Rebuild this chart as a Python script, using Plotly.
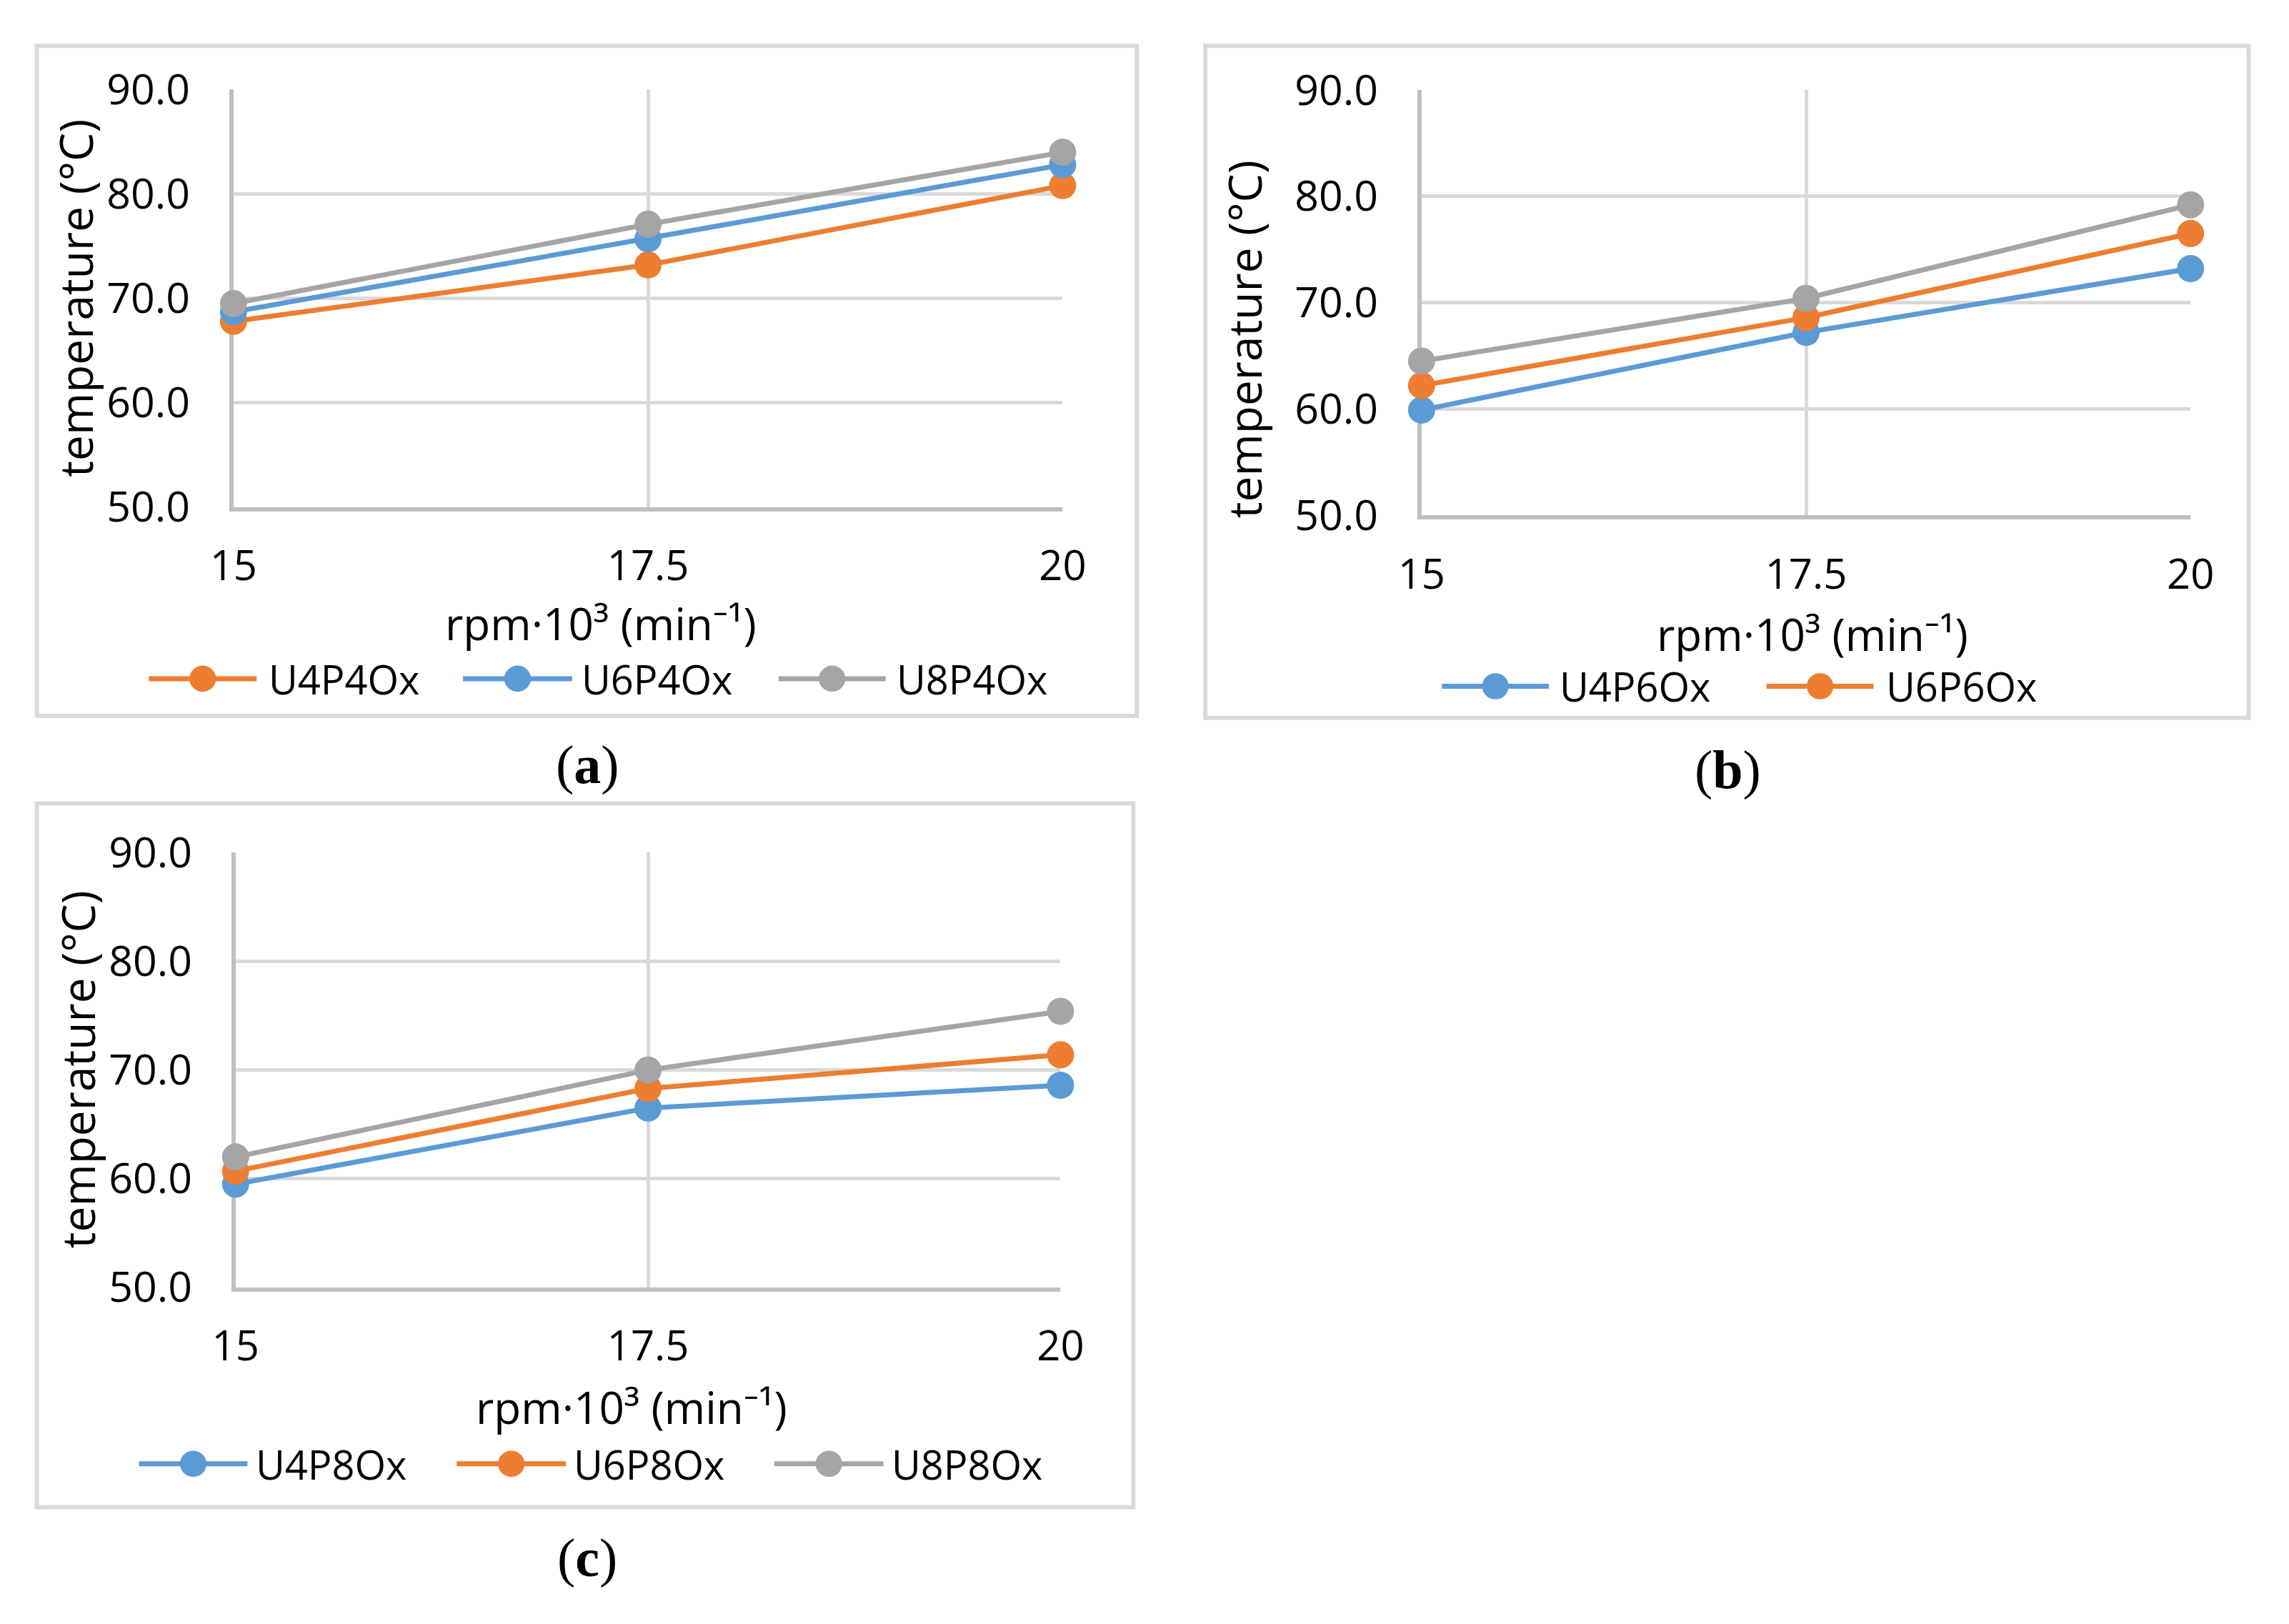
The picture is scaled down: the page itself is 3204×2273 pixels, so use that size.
import plotly.graph_objects as go

# ---------------- data ----------------
rpm = [15, 17.5, 20]
x_tick_text = ["15", "17.5", "20"]
y_ticks = [50, 60, 70, 80, 90]

# panel (a)
a_names = ["U4P4Ox", "U6P4Ox", "U8P4Ox"]
a_U4P4Ox = [67.8, 73.2, 80.8]
a_U6P4Ox = [68.7, 75.7, 82.8]
a_U8P4Ox = [69.5, 77.1, 84.0]

# panel (b)
b_names = ["U4P6Ox", "U6P6Ox", "U8P6Ox"]
b_U4P6Ox = [59.9, 67.2, 73.2]
b_U6P6Ox = [62.2, 68.6, 76.5]
b_U8P6Ox = [64.5, 70.4, 79.2]

# panel (c)
c_names = ["U4P8Ox", "U6P8Ox", "U8P8Ox"]
c_U4P8Ox = [59.5, 66.5, 68.6]
c_U6P8Ox = [60.7, 68.3, 71.4]
c_U8P8Ox = [62.0, 70.0, 75.4]

y_title = "temperature (°C)"
x_title = "rpm·10³ (min⁻¹)"
captions = ["a", "b", "c"]

# ---------------- style ----------------
W, H = 3204, 2273
ORANGE = "#ED7D31"
BLUE = "#5B9BD5"
GRAY = "#A5A5A5"
GRID = "#D9D9D9"
AXIS = "#BFBFBF"
FONT = "Open Sans, Noto Sans, DejaVu Sans"
TXT = "#000000"


def px(v):
    return v / W


def py(v):
    return 1 - v / H


panels = [
    dict(s="", names=a_names, series=[a_U4P4Ox, a_U6P4Ox, a_U8P4Ox],
         colors=[ORANGE, BLUE, GRAY], legend=[True, True, True],
         plot=(300, 1485, 86.5, 692), border=(19, 1591, 23, 995),
         ytitle=(74, 389), xtitle=(825, 860), caption=(806, 1066),
         leg_y=941, leg=[(179, 333, 348), (628, 784, 795), (1079, 1232, 1246)]),
    dict(s="2", names=b_names, series=[b_U4P6Ox, b_U6P6Ox, b_U8P6Ox],
         colors=[BLUE, ORANGE, GRAY], legend=[True, True, False],
         plot=(1998, 3097, 87, 704), border=(1689, 3180, 23, 998),
         ytitle=(1744, 449), xtitle=(2557, 876), caption=(2436, 1073),
         leg_y=952, leg=[(2027, 2180, 2193), (2491, 2644, 2660)]),
    dict(s="3", names=c_names, series=[c_U4P8Ox, c_U6P8Ox, c_U8P8Ox],
         colors=[BLUE, ORANGE, GRAY], legend=[True, True, True],
         plot=(303, 1482, 1193.5, 1824), border=(19, 1586, 1122, 2143),
         ytitle=(78, 1508), xtitle=(869, 1997), caption=(806, 2217),
         leg_y=2080, leg=[(165, 320, 330), (619, 775, 784), (1073, 1229, 1239)]),
]

fig = go.Figure()
shapes = []
annotations = []
layout = dict(
    width=W, height=H, autosize=False,
    margin=dict(l=0, r=0, t=0, b=0, pad=0),
    paper_bgcolor="white", plot_bgcolor="white",
    showlegend=False,
    font=dict(family=FONT, size=58, color=TXT),
)

R = 19  # legend marker radius (px)
for p, cap in zip(panels, captions):
    s = p["s"]
    x0, x1, yt, yb = p["plot"]
    for name, vals, col in zip(p["names"], p["series"], p["colors"]):
        fig.add_trace(go.Scatter(
            x=rpm, y=vals, name=name, mode="lines+markers",
            xaxis="x" + s, yaxis="y" + s,
            line=dict(color=col, width=7),
            marker=dict(color=col, size=38),
            cliponaxis=False,
        ))
    layout["xaxis" + s] = dict(
        domain=[px(x0), px(x1)], range=[15, 20], anchor="y" + s,
        tickvals=rpm, ticktext=x_tick_text, ticks="",
        showgrid=True, gridcolor=GRID, gridwidth=5,
        showline=True, linecolor=AXIS, linewidth=6, layer="below traces",
        zeroline=False, fixedrange=True, ticklabelstandoff=27,
        tickfont=dict(family=FONT, size=58, color=TXT),
    )
    layout["yaxis" + s] = dict(
        domain=[py(yb), py(yt)], range=[50, 90], anchor="x" + s,
        tickvals=y_ticks, tickformat=".1f", ticks="",
        showgrid=True, gridcolor=GRID, gridwidth=5,
        showline=True, linecolor=AXIS, linewidth=6, layer="below traces",
        zeroline=False, fixedrange=True, ticklabelstandoff=43,
        tickfont=dict(family=FONT, size=59, color=TXT),
    )
    bx0, bx1, by0, by1 = p["border"]
    shapes.append(dict(type="rect", xref="paper", yref="paper",
                       x0=px(bx0), x1=px(bx1), y0=py(by1), y1=py(by0),
                       line=dict(color=GRID, width=6), fillcolor="rgba(0,0,0,0)",
                       layer="below"))
    annotations.append(dict(text=y_title, xref="paper", yref="paper",
                            x=px(p["ytitle"][0]), y=py(p["ytitle"][1]),
                            textangle=-90, showarrow=False,
                            xanchor="center", yanchor="middle",
                            font=dict(family=FONT, size=64, color=TXT)))
    annotations.append(dict(text=x_title, xref="paper", yref="paper",
                            x=px(p["xtitle"][0]), y=py(p["xtitle"][1]),
                            showarrow=False, xanchor="center", yanchor="middle",
                            font=dict(family=FONT, size=62, color=TXT)))
    annotations.append(dict(text="(<b>%s</b>)" % cap, xref="paper", yref="paper",
                            x=px(p["caption"][0]), y=py(p["caption"][1]),
                            showarrow=False, xanchor="center", yanchor="middle",
                            font=dict(family="Liberation Serif", size=76, color=TXT)))
    entries = [(n, c) for n, c, show in zip(p["names"], p["colors"], p["legend"]) if show]
    ly = p["leg_y"]
    for (name, col), (lx0, lx1, tx) in zip(entries, p["leg"]):
        shapes.append(dict(type="line", xref="paper", yref="paper",
                           x0=px(lx0), x1=px(lx1), y0=py(ly), y1=py(ly),
                           line=dict(color=col, width=7)))
        cx = (lx0 + lx1) / 2
        shapes.append(dict(type="circle", xref="paper", yref="paper",
                           x0=px(cx - R), x1=px(cx + R), y0=py(ly + R), y1=py(ly - R),
                           line=dict(color=col, width=0), fillcolor=col))
        annotations.append(dict(text=name, xref="paper", yref="paper",
                                x=px(tx), y=py(ly), showarrow=False,
                                xanchor="left", yanchor="middle",
                                font=dict(family=FONT, size=56, color=TXT)))

layout["shapes"] = shapes
layout["annotations"] = annotations
fig.update_layout(**layout)

fig.write_html("out.html",
               config={"displayModeBar": False},
               post_script="document.body.style.margin='0';document.body.style.overflow='hidden';")
